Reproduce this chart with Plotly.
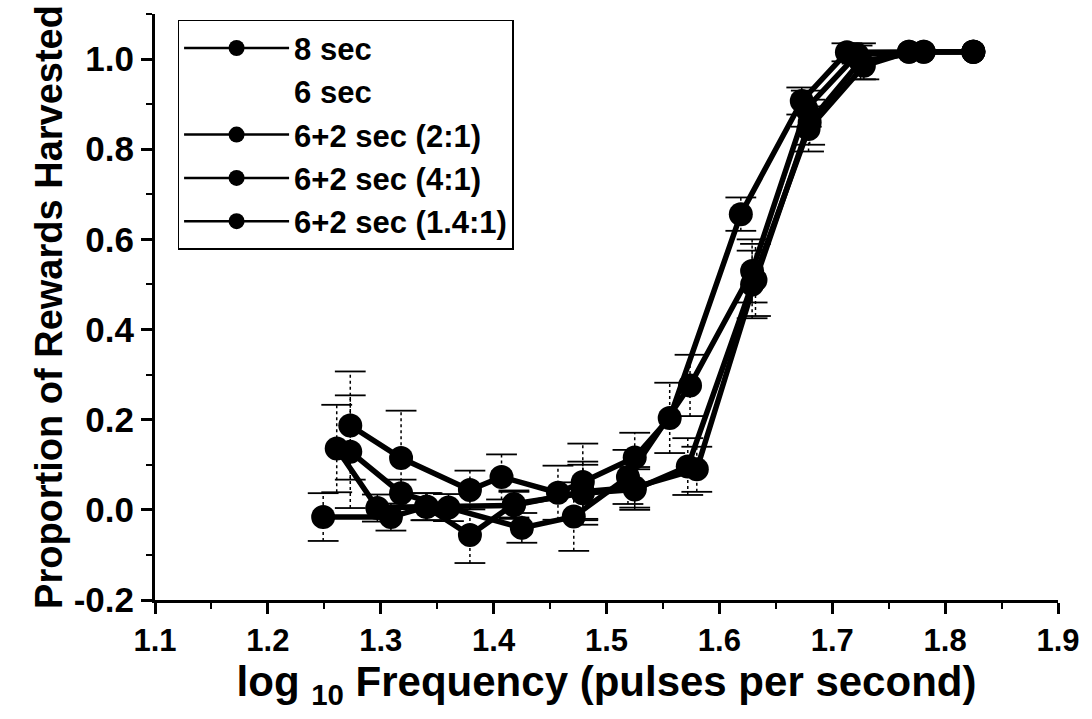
import plotly.graph_objects as go

# ---- data ----
names = ["8 sec", "6 sec", "6+2 sec (2:1)", "6+2 sec (4:1)", "6+2 sec (1.4:1)"]

x_8 = [1.273, 1.318, 1.379, 1.407, 1.457, 1.479, 1.525, 1.556, 1.619, 1.673, 1.713, 1.768, 1.825]
y_8 = [0.187, 0.115, 0.044, 0.073, 0.038, 0.062, 0.116, 0.204, 0.656, 0.907, 1.015, 1.016, 1.016]
e_8 = [0.120, 0.105, 0.043, 0.050, 0.060, 0.085, 0.055, 0.078, 0.037, 0.030, 0.020, 0.0, 0.0]

x_21 = [1.261, 1.297, 1.340, 1.379, 1.418, 1.479, 1.525, 1.572, 1.629, 1.679, 1.728, 1.768, 1.825]
y_21 = [0.136, 0.004, 0.007, -0.056, 0.013, 0.037, 0.045, 0.096, 0.500, 0.845, 0.985, 1.016, 1.016]
e_21 = [0.097, 0.030, 0.030, 0.062, 0.030, 0.070, 0.045, 0.063, 0.075, 0.050, 0.030, 0.0, 0.0]

x_41 = [1.273, 1.318, 1.360, 1.425, 1.471, 1.519, 1.574, 1.629, 1.677, 1.722, 1.781, 1.825]
y_41 = [0.129, 0.037, 0.005, -0.040, -0.015, 0.073, 0.276, 0.530, 0.890, 1.010, 1.016, 1.016]
e_41 = [0.125, 0.030, 0.030, 0.033, 0.076, 0.060, 0.068, 0.070, 0.040, 0.020, 0.0, 0.0]

x_141 = [1.249, 1.309, 1.341, 1.418, 1.479, 1.525, 1.580, 1.632, 1.680, 1.725, 1.781, 1.825]
y_141 = [-0.016, -0.016, 0.007, 0.010, 0.040, 0.050, 0.090, 0.510, 0.860, 0.995, 1.016, 1.016]
e_141 = [0.053, 0.030, 0.030, 0.030, 0.060, 0.045, 0.050, 0.080, 0.050, 0.040, 0.0, 0.0]

x_ticks = [1.1, 1.2, 1.3, 1.4, 1.5, 1.6, 1.7, 1.8, 1.9]
y_ticks = [-0.2, 0.0, 0.2, 0.4, 0.6, 0.8, 1.0]

FONT = "Liberation Sans, Arial, sans-serif"

fig = go.Figure()

series = [(x_8, y_8, e_8), (x_21, y_21, e_21), (x_41, y_41, e_41), (x_141, y_141, e_141)]

# dotted error bars with solid caps (built from the data arrays)
for xs, ys, es in series:
    sx, sy, cx, cy = [], [], [], []
    for x, y, e in zip(xs, ys, es):
        if e <= 0:
            continue
        sx += [x, x, None]
        sy += [y - e, y + e, None]
        cx += [x, x]
        cy += [y - e, y + e]
    fig.add_trace(go.Scatter(x=sx, y=sy, mode="lines", showlegend=False, hoverinfo="skip",
                             line=dict(color="black", width=1.5, dash="dot")))
    fig.add_trace(go.Scatter(x=cx, y=cy, mode="markers", showlegend=False, hoverinfo="skip",
                             marker=dict(symbol="line-ew", size=22,
                                         line=dict(color="black", width=1.8))))

for xs, ys, es in series:
    fig.add_trace(go.Scatter(
        x=xs, y=ys, mode="lines+markers", showlegend=False,
        line=dict(color="black", width=5.5),
        marker=dict(color="black", size=24),
    ))

# legend entries
for i, nm in enumerate(names):
    if nm == "6 sec":
        fig.add_trace(go.Scatter(x=[None], y=[None], mode="lines", name=nm,
                                 line=dict(color="rgba(0,0,0,0)", width=2)))
    else:
        fig.add_trace(go.Scatter(x=[None], y=[None], mode="lines+markers", name=nm,
                                 line=dict(color="black", width=2.5),
                                 marker=dict(color="black", size=16)))

fig.update_layout(
    width=1092, height=719,
    margin=dict(l=155, r=25, t=14, b=119),
    paper_bgcolor="white", plot_bgcolor="white",
    font=dict(family=FONT, color="black"),
    legend=dict(
        x=0.025, y=0.99, xanchor="left", yanchor="top",
        bgcolor="white", bordercolor="black", borderwidth=1.5,
        font=dict(family=FONT, size=31, weight="bold", color="black"),
        itemwidth=105, tracegroupgap=0,
    ),
)

fig.update_xaxes(
    range=[1.1, 1.9], tickvals=x_ticks, ticktext=[f"{v:.1f}" for v in x_ticks],
    showline=True, linecolor="black", linewidth=3, mirror=False,
    ticks="outside", ticklen=11, tickwidth=2.5, tickcolor="black",
    minor=dict(dtick=0.05, tick0=1.1, ticks="outside", ticklen=6, tickwidth=2, tickcolor="black", showgrid=False),
    showgrid=False, zeroline=False,
    tickfont=dict(family=FONT, size=31, weight="bold", color="black"),
    title=dict(text="log <sub>10</sub> Frequency (pulses per second)",
               font=dict(family=FONT, size=42, weight="bold", color="black"), standoff=8),
)
fig.update_yaxes(
    range=[-0.2, 1.1], tickvals=y_ticks, ticktext=[f"{v:.1f}" for v in y_ticks],
    showline=True, linecolor="black", linewidth=3, mirror=False,
    ticks="outside", ticklen=11, tickwidth=2.5, tickcolor="black",
    minor=dict(dtick=0.1, tick0=-0.2, ticks="outside", ticklen=6, tickwidth=2, tickcolor="black", showgrid=False),
    showgrid=False, zeroline=False,
    tickfont=dict(family=FONT, size=35, weight="bold", color="black"),
    title=dict(text="Proportion of Rewards Harvested",
               font=dict(family=FONT, size=38, weight="bold", color="black"), standoff=0),
)

fig.write_html("out.html")
